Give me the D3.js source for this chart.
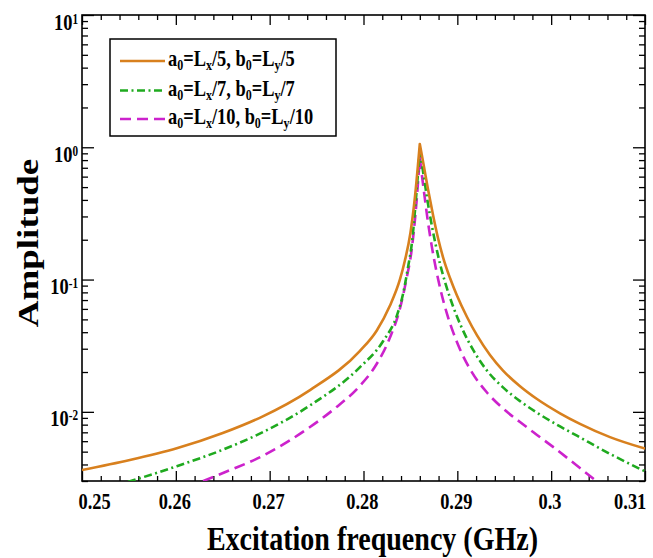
<!DOCTYPE html>
<html>
<head>
<meta charset="utf-8">
<script src="https://cdn.jsdelivr.net/npm/d3@7/dist/d3.min.js"></script>
<style>
  html, body { margin: 0; padding: 0; background: #fff; }
  svg { display: block; }
  text { font-family: "Liberation Serif", "Times New Roman", serif; font-weight: bold; fill: #000; }
</style>
</head>
<body>
<svg id="chart" width="653" height="558"></svg>
<script>
// ---------- data ----------
const xTickValues = [0.25, 0.26, 0.27, 0.28, 0.29, 0.30, 0.31];
const xTickLabels = ["0.25", "0.26", "0.27", "0.28", "0.29", "0.3", "0.31"];
const yTickValues = [10, 1, 0.1, 0.01];
const yTickExponents = ["1", "0", "-1", "-2"];

const seriesNames = ["L5", "L7", "L10"];

// a0=Lx/5, b0=Ly/5
const freqL5 = [0.2500, 0.2551, 0.2601, 0.2650, 0.2690, 0.2743, 0.2796, 0.2814, 0.2828, 0.2839, 0.2844, 0.2850, 0.2855, 0.2860,
                0.28645, 0.28687, 0.28741, 0.28794, 0.28847, 0.28922, 0.28996, 0.29103, 0.29210, 0.29348, 0.29487,
                0.29668, 0.29849, 0.30094, 0.30307, 0.30627, 0.3100];
const ampL5  = [0.00363, 0.00432, 0.00530, 0.00691, 0.00905, 0.01460, 0.02878, 0.04106, 0.06311, 0.1010, 0.1381, 0.2249, 0.432, 1.059,
                0.709, 0.484, 0.308, 0.206, 0.148, 0.1027, 0.0758, 0.0521, 0.0378, 0.0269, 0.0205,
                0.01562, 0.01250, 0.00975, 0.00811, 0.00644, 0.00527];

// a0=Lx/7, b0=Ly/7
const freqL7 = [0.2549, 0.2601, 0.2650, 0.2690, 0.2743, 0.2796, 0.2821, 0.2836, 0.2842, 0.2847, 0.2852, 0.2856, 0.2860,
                0.28645, 0.28687, 0.28730, 0.28773, 0.28815, 0.28879, 0.28954, 0.29050, 0.29167, 0.29316, 0.29487,
                0.29668, 0.29849, 0.30062, 0.30275, 0.30627, 0.3100];
const ampL7  = [0.00295, 0.00388, 0.00517, 0.00687, 0.01118, 0.02167, 0.03431, 0.05452, 0.0770, 0.1189, 0.2006, 0.4165, 0.961,
                0.586, 0.375, 0.252, 0.178, 0.1320, 0.0906, 0.0629, 0.0428, 0.0295, 0.0205, 0.0153,
                0.01205, 0.00985, 0.00799, 0.00660, 0.00481, 0.00355];

// a0=Lx/10, b0=Ly/10
const freqL10 = [0.2629, 0.2658, 0.2690, 0.2743, 0.2770, 0.2796, 0.2814, 0.2828, 0.2839, 0.2846, 0.2851, 0.2855, 0.2860,
                 0.28645, 0.28687, 0.28730, 0.28773, 0.28826, 0.28890, 0.28954, 0.29028, 0.29156, 0.29316, 0.29487,
                 0.29668, 0.29849, 0.30020, 0.30307, 0.30488];
const ampL10  = [0.00300, 0.00363, 0.00455, 0.00768, 0.01069, 0.01568, 0.02299, 0.03616, 0.06095, 0.1027, 0.1615, 0.292, 0.830,
                 0.459, 0.2723, 0.1744, 0.1197, 0.0809, 0.0550, 0.0402, 0.0297, 0.0199, 0.0140, 0.0106,
                 0.00837, 0.00669, 0.00543, 0.00376, 0.00297];

const legendLabels = [
  {a: "5", b: "5"},
  {a: "7", b: "7"},
  {a: "10", b: "10"}
];

// ---------- layout ----------
const X0 = 82, X1 = 645, Y0 = 15, Y1 = 481;
const TS = 0.8; // horizontal text squeeze seen in the reference

const styles = [
  {color: "#D8801E", dash: null},
  {color: "#1FAA1F", dash: "8,3.5,2,3.5"},
  {color: "#CC22CC", dash: "11,6"}
];

const svg = d3.select("#chart");
svg.append("rect").attr("width", 653).attr("height", 558).attr("fill", "#fff");

const x = d3.scaleLinear().domain([0.25, 0.31]).range([X0, X1]);
const y = d3.scaleLog().domain([0.003, 10]).range([Y1, Y0]);

// clip
svg.append("defs").append("clipPath").attr("id", "plotclip")
  .append("rect").attr("x", X0).attr("y", Y0).attr("width", X1 - X0).attr("height", Y1 - Y0);

// minor tick values
const xMinor = d3.range(0, 31).map(i => 0.25 + i * 0.002).filter((v, i) => i % 5 !== 0);
const yMinor = [];
[0.001, 0.01, 0.1, 1].forEach(dec => { for (let k = 2; k <= 9; k++) { const v = dec * k; if (v >= 0.003 && v <= 10) yMinor.push(v); } });

function styleAxis(g) {
  g.select(".domain").remove();
  g.selectAll(".tick line").attr("stroke", "#000").attr("stroke-width", 1.3);
}

// bottom axis
const gBottom = svg.append("g").attr("transform", `translate(0,${Y1})`)
  .call(d3.axisBottom(x).tickValues(xTickValues).tickSize(-10).tickFormat((d, i) => xTickLabels[i]));
styleAxis(gBottom);
gBottom.selectAll(".tick text")
  .attr("y", 28).attr("dy", 0)
  .attr("font-size", 23)
  .attr("fill", "#000")
  .attr("font-family", "Liberation Serif, serif")
  .attr("font-weight", "bold")
  .attr("text-anchor", (d, i) => i === 0 ? "start" : (i === xTickValues.length - 1 ? "end" : "middle"))
  .attr("x", (d, i) => i === 0 ? -5 : (i === xTickValues.length - 1 ? 1 : -2))
  .attr("transform", `scale(${TS},1)`);
svg.append("g").attr("transform", `translate(0,${Y1})`)
  .call(d3.axisBottom(x).tickValues(xMinor).tickSize(-5).tickFormat("")).call(styleAxis);

// top axis
svg.append("g").attr("transform", `translate(0,${Y0})`)
  .call(d3.axisTop(x).tickValues(xTickValues).tickSize(-10).tickFormat("")).call(styleAxis);
svg.append("g").attr("transform", `translate(0,${Y0})`)
  .call(d3.axisTop(x).tickValues(xMinor).tickSize(-5).tickFormat("")).call(styleAxis);

// left axis
const gLeft = svg.append("g").attr("transform", `translate(${X0},0)`)
  .call(d3.axisLeft(y).tickValues(yTickValues).tickSize(-12).tickFormat(""));
styleAxis(gLeft);
gLeft.selectAll(".tick text").each(function(d, i) {
  const t = d3.select(this);
  t.text(null)
    .attr("x", -4 / TS).attr("y", 14).attr("dy", 0)
    .attr("text-anchor", "end")
    .attr("font-size", 23)
    .attr("fill", "#000")
    .attr("transform", `scale(${TS},1)`);
  t.append("tspan").text("10");
  t.append("tspan").attr("dy", -6).attr("font-size", 14).text(yTickExponents[i]);
});
svg.append("g").attr("transform", `translate(${X0},0)`)
  .call(d3.axisLeft(y).tickValues(yMinor).tickSize(-6).tickFormat("")).call(styleAxis);

// right axis
svg.append("g").attr("transform", `translate(${X1},0)`)
  .call(d3.axisRight(y).tickValues(yTickValues).tickSize(-12).tickFormat("")).call(styleAxis);
svg.append("g").attr("transform", `translate(${X1},0)`)
  .call(d3.axisRight(y).tickValues(yMinor).tickSize(-6).tickFormat("")).call(styleAxis);

// frame
svg.append("rect").attr("x", X0).attr("y", Y0).attr("width", X1 - X0).attr("height", Y1 - Y0)
  .attr("fill", "none").attr("stroke", "#000").attr("stroke-width", 1.6);

// curves: rising and falling branches joined at the peak so the tip stays sharp
const lineGen = d3.line().x(d => x(d[0])).y(d => y(d[1])).curve(d3.curveMonotoneX);
function peakPath(fs, as) {
  const pts = fs.map((f, i) => [f, as[i]]);
  let pk = 0;
  as.forEach((a, i) => { if (a > as[pk]) pk = i; });
  const left = lineGen(pts.slice(0, pk + 1));
  const right = lineGen(pts.slice(pk));
  return left + "L" + right.slice(1);
}

const plot = svg.append("g").attr("clip-path", "url(#plotclip)");
const seriesData = [[freqL5, ampL5], [freqL7, ampL7], [freqL10, ampL10]];
seriesData.slice().reverse().forEach((s, ri) => {
  const i = seriesData.length - 1 - ri;
  plot.append("path")
    .attr("d", peakPath(s[0], s[1]))
    .attr("fill", "none")
    .attr("stroke", styles[i].color)
    .attr("stroke-width", 2.6)
    .attr("stroke-linejoin", "round")
    .attr("stroke-dasharray", styles[i].dash)
    .attr("data-series", seriesNames[i]);
});

// legend
const legend = svg.append("g");
legend.append("rect").attr("x", 110).attr("y", 39).attr("width", 226).attr("height", 97)
  .attr("fill", "#fff").attr("stroke", "#000").attr("stroke-width", 1.5);
const rowY = [61, 90.5, 119];
legendLabels.forEach((lab, i) => {
  legend.append("line")
    .attr("x1", 120).attr("x2", 165).attr("y1", rowY[i]).attr("y2", rowY[i])
    .attr("stroke", styles[i].color).attr("stroke-width", 2.6)
    .attr("stroke-dasharray", styles[i].dash);
  const t = legend.append("text")
    .attr("transform", `translate(168,${rowY[i] + 5}) scale(${TS},1)`)
    .attr("font-size", 23);
  t.append("tspan").text("a");
  t.append("tspan").attr("font-size", 15).attr("dy", 4).text("0");
  t.append("tspan").attr("dy", -4).text("=L");
  t.append("tspan").attr("font-size", 15).attr("dy", 4).text("x");
  t.append("tspan").attr("dy", -4).text("/" + lab.a + ", b");
  t.append("tspan").attr("font-size", 15).attr("dy", 4).text("0");
  t.append("tspan").attr("dy", -4).text("=L");
  t.append("tspan").attr("font-size", 15).attr("dy", 4).text("y");
  t.append("tspan").attr("dy", -4).text("/" + lab.b);
});

// axis titles
svg.append("text")
  .attr("transform", `translate(372.5,550) scale(0.85,1)`)
  .attr("text-anchor", "middle")
  .attr("font-size", 33)
  .text("Excitation frequency (GHz)");

svg.append("text")
  .attr("transform", `translate(38,243) scale(${TS},1) rotate(-90)`)
  .attr("text-anchor", "middle")
  .attr("font-size", 37)
  .text("Amplitude");
</script>
</body>
</html>
